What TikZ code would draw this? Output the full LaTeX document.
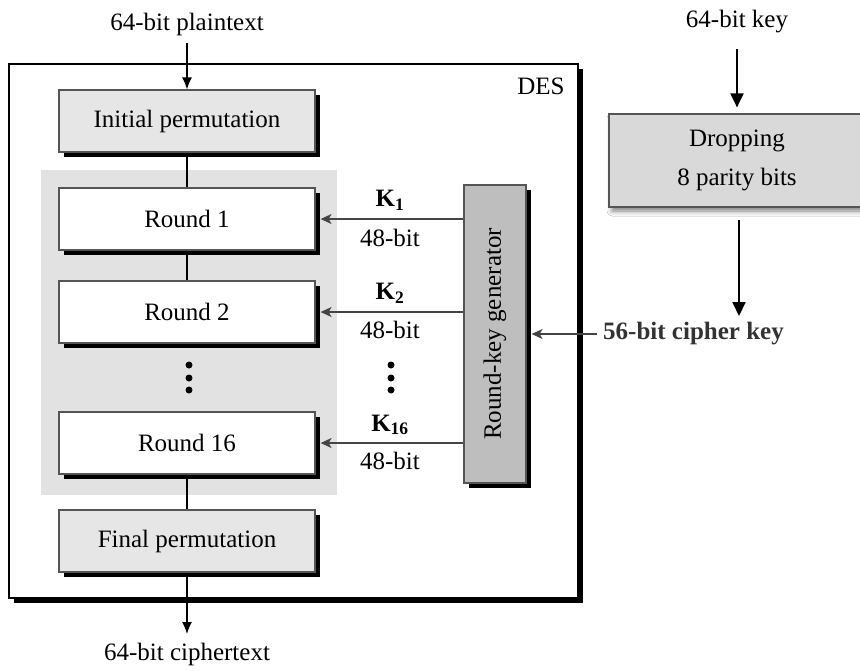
\documentclass[tikz,border=0pt]{standalone}
\usepackage{fontspec}
\setmainfont{Liberation Serif}
\usetikzlibrary{arrows.meta,shadows,shadows.blur}
\definecolor{lightbox}{HTML}{E6E6E6}
\definecolor{roundzone}{HTML}{E2E2E2}
\definecolor{genfill}{HTML}{BEBEBE}
\definecolor{dropfill}{HTML}{D9D9D9}
\definecolor{edgegray}{HTML}{555555}
\definecolor{keyline}{HTML}{444444}
\definecolor{labelgray}{HTML}{333333}
\tikzset{
  txt/.style={font=\fontsize{25}{29}\selectfont, inner sep=0pt},
  hardshadow/.style={drop shadow={shadow xshift=5pt, shadow yshift=-5pt, fill=black, opacity=1}},
  stagebox/.style={txt, draw=edgegray, line width=1.2pt, minimum width=256pt, minimum height=62pt, hardshadow},
  flow/.style={draw=black, line width=1.3pt, -{Latex[length=12pt,width=10pt]}},
  link/.style={draw=black, line width=1.3pt},
  keyarrow/.style={draw=keyline, line width=1.2pt, -{Stealth[length=11pt,width=10pt,inset=3pt]}},
  bigarrow/.style={draw=black, line width=2pt, -{Triangle[length=14pt,width=13pt]}},
  dot/.style={circle, fill=black, inner sep=0pt, minimum size=7pt},
}
\begin{document}
\begin{tikzpicture}[x=1pt,y=-1pt]
  \useasboundingbox (0,0) rectangle (860,670);
  \fill[white] (0,0) rectangle (860,670);

  % DES frame with its solid shadow
  \fill[black] (14,69) rectangle (583,603);
  \draw[black, line width=1.5pt, fill=white] (9,64) rectangle (578,598);
  \node[txt] (des) at (541,86) {DES};

  % shaded zone behind the sixteen rounds
  \fill[roundzone] (41,170) rectangle (337,495);

  % cipher stages
  \node[stagebox, fill=lightbox] (ip) at (187,121) {Initial permutation};
  \node[stagebox, fill=white] (r1) at (187,219) {Round 1};
  \node[stagebox, fill=white] (r2) at (187,312) {Round 2};
  \node[stagebox, fill=white] (r16) at (187,443) {Round 16};
  \node[stagebox, fill=lightbox] (fp) at (187,541) {Final permutation};

  \node[dot] (rd1) at (189,365) {};
  \node[dot] (rd2) at (189,378) {};
  \node[dot] (rd3) at (189,390) {};

  % round-key generator
  \node[txt, draw=edgegray, line width=1.2pt, fill=genfill, minimum width=62pt,
        minimum height=298pt, hardshadow] (rkg) at (495,334) {};
  \node[txt, rotate=90] (rkgtext) at (rkg.center) {Round-key generator};

  % data path
  \node[txt] (pt) at (187,24) {64-bit plaintext};
  \coordinate (ptend) at (187,43);
  \draw[flow] (ptend) -- (ip.north);
  \draw[link] (ip.south) -- (r1.north);
  \draw[link] (r1.south) -- (r2.north);
  \draw[link] (r16.south) -- (fp.north);
  \coordinate (ctend) at (187,634);
  \draw[flow] (fp.south) -- (ctend);
  \node[txt] (ct) at (187,654) {64-bit ciphertext};

  % round keys
  \draw[keyarrow] (rkg.west |- r1.east) -- ([xshift=5pt]r1.east);
  \draw[keyarrow] (rkg.west |- r2.east) -- ([xshift=5pt]r2.east);
  \draw[keyarrow] (rkg.west |- r16.east) -- ([xshift=5pt]r16.east);
  \node[txt] (k1) at (390,200) {\textbf{K\textsubscript{1}}};
  \node[txt] (b1) at (390,238) {48-bit};
  \node[txt] (k2) at (390,293) {\textbf{K\textsubscript{2}}};
  \node[txt] (b2) at (390,330) {48-bit};
  \node[txt] (k16) at (390,425) {\textbf{K\textsubscript{16}}};
  \node[txt] (b16) at (390,461) {48-bit};
  \node[dot] (kd1) at (391,365) {};
  \node[dot] (kd2) at (391,378) {};
  \node[dot] (kd3) at (391,390) {};

  % cipher key input
  \node[txt, anchor=west, text=labelgray] (ck) at (603,334) {\textbf{56-bit cipher key}};
  \draw[keyarrow] ([xshift=-6pt]ck.west) -- ([xshift=5pt]rkg.east);

  % parity drop
  \node[txt] (kin) at (737,22) {64-bit key};
  \node[txt, align=center, draw=edgegray, line width=1.2pt, fill=dropfill,
        minimum width=256pt, minimum height=93pt,
        blur shadow={shadow xshift=3pt, shadow yshift=-4pt, shadow blur radius=5pt, shadow opacity=50}]
        (drop) at (737,160.5) {Dropping\\[10pt]8 parity bits};
  \coordinate (kinend) at (737,49);
  \draw[bigarrow] (kinend) -- ([yshift=6pt]drop.north);
  \coordinate (dropout) at (739,220);
  \coordinate (dropend) at (739,316);
  \draw[bigarrow] (dropout) -- (dropend);
\end{tikzpicture}
\end{document}
